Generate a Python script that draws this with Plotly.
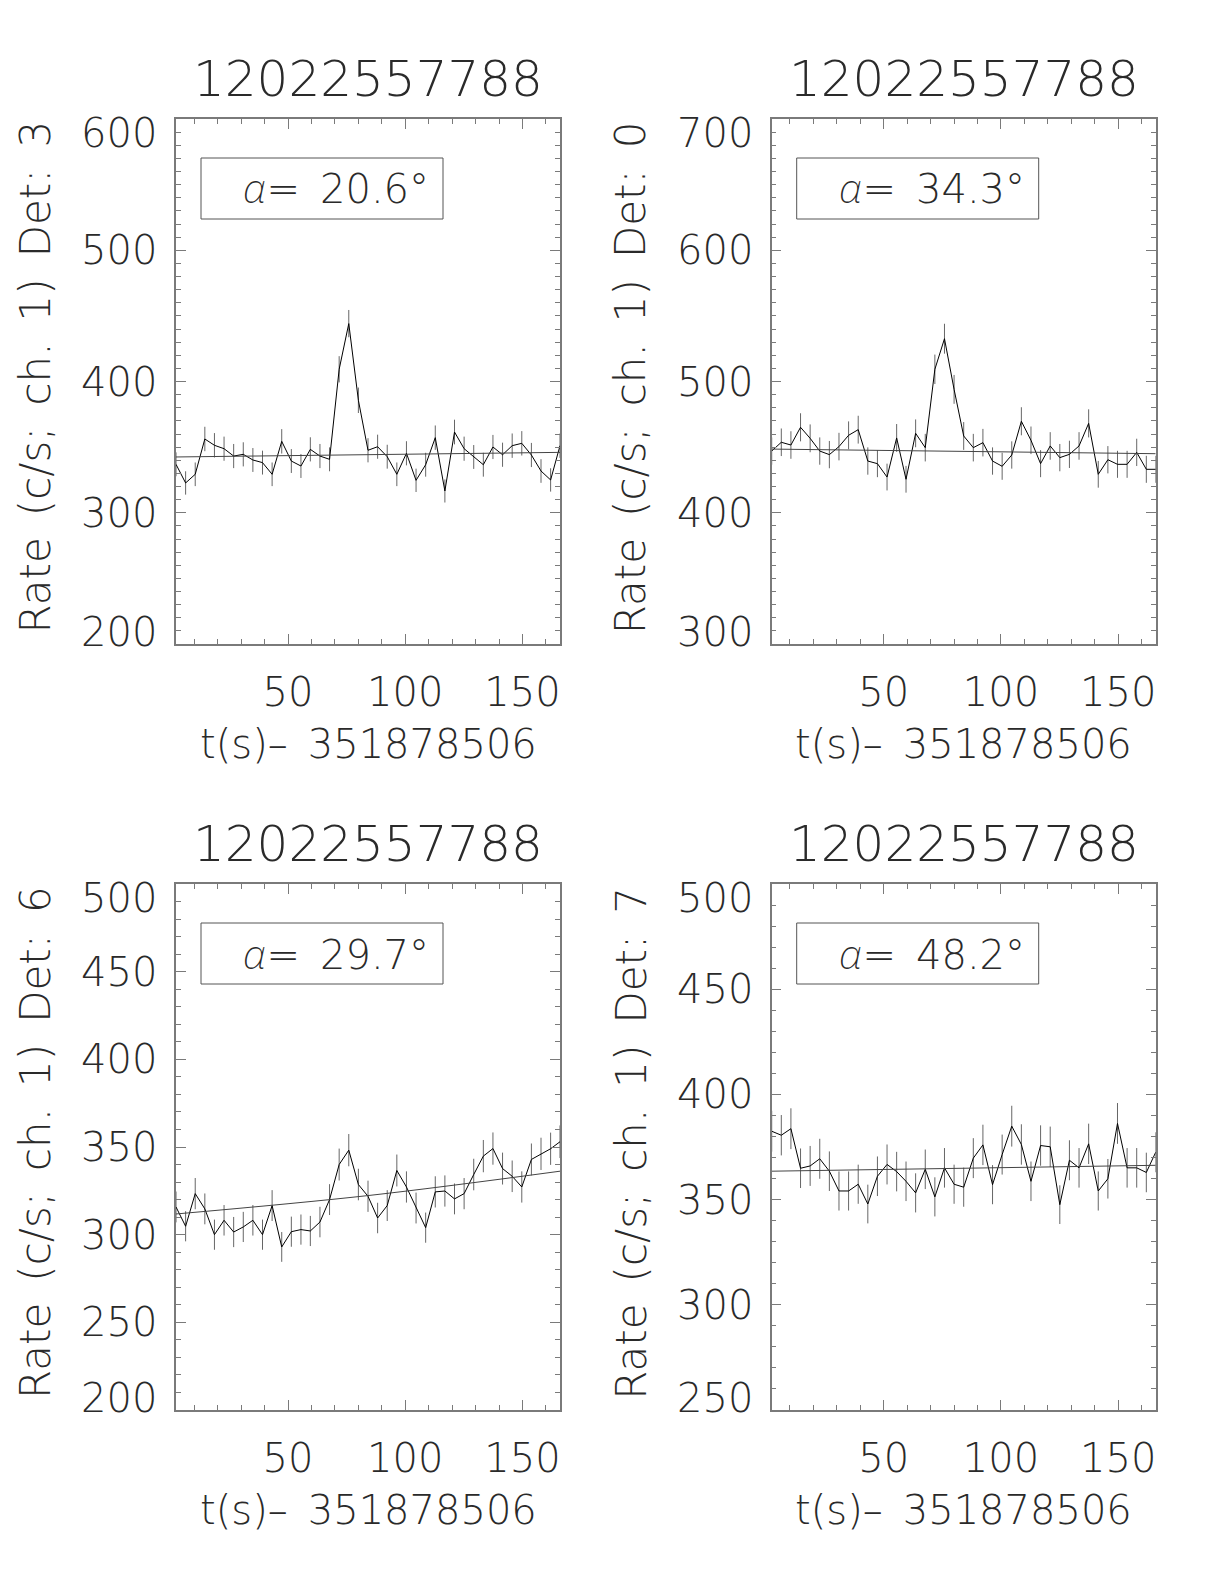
import plotly.graph_objects as go

# ---------------- data ----------------
t_sec = [2.2, 6.3, 10.4, 14.5, 18.6, 22.7, 26.8, 30.9, 35.0, 39.1, 43.2, 47.3, 51.4, 55.5,
         59.5, 63.6, 67.7, 71.8, 75.9, 80.0, 84.1, 88.2, 92.3, 96.4, 100.5, 104.6, 108.7,
         112.8, 116.9, 121.0, 125.1, 129.2, 133.3, 137.4, 141.5, 145.6, 149.7, 153.8,
         157.9, 162.0, 166.0]

rate_det3 = [336.9, 322.7, 329.3, 356.2, 351.4, 348.8, 343.2, 344.5, 340.2, 338.2, 329.3,
             354.4, 339.4, 335.6, 348.3, 343.2, 340.7, 409.3, 444.1, 385.7, 347.6, 350.3,
             342.7, 329.3, 345.3, 324.7, 336.6, 357.2, 316.6, 361.5, 348.8, 342.5, 336.6,
             350.1, 344.2, 351.1, 352.9, 344.0, 331.8, 325.0, 351.1]
err_det3 = [9.1, 8.9, 9.0, 9.3, 9.3, 9.2, 9.2, 9.2, 9.1, 9.1, 9.0, 9.3, 9.1, 9.1, 9.2, 9.2,
            9.1, 10.0, 10.4, 9.7, 9.2, 9.2, 9.1, 9.0, 9.2, 8.9, 9.1, 9.3, 8.8, 9.4, 9.2, 9.1,
            9.1, 9.2, 9.2, 9.3, 9.3, 9.2, 9.0, 8.9, 9.3]

rate_det0 = [447.0, 453.7, 451.6, 465.1, 456.7, 447.0, 444.3, 450.4, 459.0, 463.3, 439.4,
             437.4, 427.2, 457.0, 425.5, 460.5, 449.6, 509.3, 532.6, 494.0, 458.5, 449.6,
             453.4, 439.4, 435.4, 444.0, 469.7, 455.2, 437.4, 450.9, 442.0, 444.5, 450.9,
             468.1, 429.3, 440.4, 436.9, 436.9, 446.0, 433.1, 433.1]
err_det0 = [10.4, 10.5, 10.5, 10.7, 10.6, 10.4, 10.4, 10.5, 10.6, 10.6, 10.4, 10.3, 10.2,
            10.6, 10.2, 10.6, 10.5, 11.2, 11.4, 11.0, 10.6, 10.5, 10.5, 10.4, 10.3, 10.4,
            10.7, 10.5, 10.3, 10.5, 10.4, 10.4, 10.5, 10.7, 10.2, 10.4, 10.3, 10.3, 10.4,
            10.3, 10.3]

rate_det6 = [315.8, 304.8, 323.4, 314.7, 300.0, 308.2, 301.5, 304.4, 308.2, 300.0, 316.6,
             293.0, 301.7, 302.9, 302.1, 307.2, 320.0, 340.0, 348.2, 328.6, 321.9, 309.5,
             316.6, 336.6, 327.2, 315.2, 304.0, 324.4, 324.9, 320.4, 323.4, 334.3, 344.8,
             349.1, 337.7, 333.3, 327.2, 342.9, 346.1, 349.0, 353.0]
err_det6 = [8.8, 8.6, 8.9, 8.8, 8.6, 8.7, 8.6, 8.6, 8.7, 8.6, 8.8, 8.5, 8.6, 8.6, 8.6, 8.7,
            8.8, 9.1, 9.2, 9.0, 8.9, 8.7, 8.8, 9.1, 8.9, 8.8, 8.6, 8.9, 8.9, 8.8, 8.9, 9.0,
            9.2, 9.2, 9.1, 9.0, 8.9, 9.1, 9.2, 9.2, 9.3]

rate_det7 = [382.5, 380.6, 383.7, 364.9, 366.0, 369.4, 363.5, 354.1, 354.1, 357.3, 347.9,
             361.1, 366.7, 363.3, 358.7, 353.2, 364.4, 351.3, 365.1, 357.3, 355.9, 369.7,
             376.0, 357.1, 371.4, 384.9, 376.2, 358.7, 375.7, 375.1, 347.6, 368.7, 365.1,
             376.5, 354.1, 359.9, 386.2, 365.1, 365.1, 362.9, 372.5]
err_det7 = [9.7, 9.6, 9.7, 9.4, 9.5, 9.5, 9.4, 9.3, 9.3, 9.3, 9.2, 9.4, 9.5, 9.4, 9.4, 9.3,
            9.4, 9.3, 9.4, 9.3, 9.3, 9.5, 9.6, 9.3, 9.5, 9.7, 9.6, 9.4, 9.6, 9.6, 9.2, 9.5,
            9.4, 9.6, 9.3, 9.4, 9.7, 9.4, 9.4, 9.4, 9.5]

# background fits (read at a few times)
fit_t = [2.2, 84.1, 166.0]
fit_det3 = [342.5, 344.2, 346.0]
fit_det0 = [448.5, 446.8, 445.0]
fit_det6 = [311.8, 322.3, 336.2]
fit_det7 = [363.5, 364.9, 366.3]

SP = "\u2002"   # wide space, like the plotting font's spacing
title_text = "12022557788"
xlabel_text = f"t(s)\u2013{SP}351878506"
x_tickvals = [50, 100, 150]
yticks_det3 = [200, 300, 400, 500, 600]
yticks_det0 = [300, 400, 500, 600, 700]
yticks_det6 = [200, 250, 300, 350, 400, 450, 500]
yticks_det7 = [250, 300, 350, 400, 450, 500]
dets = ["3", "0", "6", "7"]
alphas = ["20.6", "34.3", "29.7", "48.2"]

# ---------------- layout helpers ----------------
# the page body has an 8px margin, so the figure is drawn 8px in from the window edge
OFF = 8
W, H = 1224 - 2 * OFF, 1584 - 2 * OFF
def px(x):
    return (x - OFF) / W
def py(y):
    return 1 - (y - OFF) / H

boxes = [(176, 560, 119, 644), (771.7, 1155.7, 119, 644),
         (176, 560, 884, 1410), (771.7, 1155.7, 884, 1410)]
rates = [rate_det3, rate_det0, rate_det6, rate_det7]
errs = [err_det3, err_det0, err_det6, err_det7]
fits = [fit_det3, fit_det0, fit_det6, fit_det7]
yticks = [yticks_det3, yticks_det0, yticks_det6, yticks_det7]
curve_shape = ["linear", "linear", "spline", "linear"]

FONT = "DejaVu Sans"
TXT = "#2a2a2a"
AX = "#7a7a7a"
FS = 40
FONTD = dict(family=FONT, size=FS, color=TXT, weight=200)
ALPHA = ('<span style="font-family:\'Noto Sans\';font-weight:200;'
         'font-style:italic">\u03b1</span>')

fig = go.Figure()
annotations = []
shapes = []

for i in range(4):
    n = i + 1
    xa = "x" if n == 1 else f"x{n}"
    ya = "y" if n == 1 else f"y{n}"
    l, r, top, bot = boxes[i]
    yt = yticks[i]

    fig.add_trace(go.Scatter(
        x=t_sec, y=rates[i], mode="lines",
        line=dict(color="black", width=1),
        error_y=dict(type="data", array=errs[i], visible=True,
                     color="#666666", thickness=1, width=0),
        xaxis=xa, yaxis=ya, showlegend=False, hoverinfo="skip"))
    fig.add_trace(go.Scatter(
        x=fit_t, y=fits[i], mode="lines",
        line=dict(color="#444444", width=1, shape=curve_shape[i]),
        xaxis=xa, yaxis=ya, showlegend=False, hoverinfo="skip"))

    common = dict(ticks="inside", ticklen=10, tickwidth=1, tickcolor=AX,
                  mirror="ticks", showline=True, linecolor=AX, linewidth=1.5,
                  showgrid=False, zeroline=False)
    fig.update_layout(**{
        f"xaxis{'' if n == 1 else n}": dict(
            domain=[px(l), px(r)], range=[t_sec[0], t_sec[-1]], anchor=ya,
            tickmode="array", tickvals=x_tickvals,
            tickfont=FONTD, ticklabelstandoff=12,
            minor=dict(dtick=10, tick0=0, ticks="inside", ticklen=5,
                       tickcolor=AX, tickwidth=1, showgrid=False),
            **common),
        f"yaxis{'' if n == 1 else n}": dict(
            domain=[py(bot), py(top)], range=[yt[0], yt[-1]], anchor=xa,
            tickmode="array", tickvals=yt, showticklabels=False,
            minor=dict(dtick=10, tick0=0, ticks="inside", ticklen=5,
                       tickcolor=AX, tickwidth=1, showgrid=False),
            **common),
    })

    # y tick labels
    for v in yt:
        shift = 0
        if v == yt[-1]:
            shift = -14
        elif v == yt[0]:
            shift = 12
        annotations.append(dict(
            x=px(l - 17), xref="paper", xanchor="right",
            y=v, yref=ya, yanchor="middle", yshift=shift,
            text=str(v), showarrow=False, font=FONTD))

    cx = (l + r) / 2
    # panel title
    annotations.append(dict(
        x=px(cx), y=py(top - 40), xref="paper", yref="paper",
        xanchor="center", yanchor="middle", text=title_text, showarrow=False,
        font=dict(family=FONT, size=50, color=TXT, weight=200)))
    # x axis title
    annotations.append(dict(
        x=px(cx), y=py(bot + 100), xref="paper", yref="paper",
        xanchor="center", yanchor="middle", text=xlabel_text, showarrow=False,
        font=FONTD))
    # y axis title
    ytitle = SP.join(["Rate", "(c/s;", "ch.", "1)", "Det:", dets[i]])
    annotations.append(dict(
        x=px(l - 141), y=py((top + bot) / 2 - 4), xref="paper", yref="paper",
        xanchor="center", yanchor="middle", textangle=-90,
        text=ytitle, showarrow=False,
        font=dict(family=FONT, size=42, color=TXT, weight=200)))
    # alpha box
    shapes.append(dict(type="rect", xref="paper", yref="paper",
                       x0=px(l + 25), x1=px(l + 267), y0=py(top + 100), y1=py(top + 39),
                       line=dict(color="#555555", width=1)))
    annotations.append(dict(
        x=px(l + 160), y=py(top + 69), xref="paper", yref="paper",
        xanchor="center", yanchor="middle",
        text=f"{ALPHA}={SP}{alphas[i]}\u00b0", showarrow=False, font=FONTD))

fig.update_layout(
    width=W, height=H, autosize=False,
    margin=dict(l=0, r=0, t=0, b=0),
    paper_bgcolor="white", plot_bgcolor="white",
    font=FONTD,
    annotations=annotations, shapes=shapes, showlegend=False)

fig.write_html("out.html")
